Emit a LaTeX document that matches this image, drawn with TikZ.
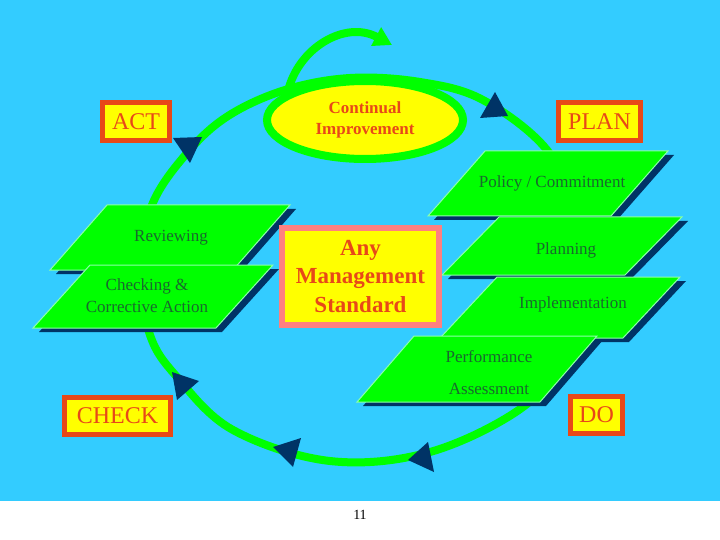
\documentclass[tikz,border=0pt]{standalone}
\usepackage{fontspec}
\setmainfont{Liberation Serif}
\usetikzlibrary{arrows.meta, shapes.geometric}

\definecolor{sky}{RGB}{51,204,255}
\definecolor{leaf}{RGB}{0,255,0}
\definecolor{leafedge}{RGB}{140,255,170}
\definecolor{navy}{RGB}{0,51,102}
\definecolor{brick}{RGB}{232,72,24}
\definecolor{salmon}{RGB}{255,128,128}
\definecolor{forest}{RGB}{25,105,45}
\definecolor{lemon}{RGB}{255,255,0}

\begin{document}
\begin{tikzpicture}[
        x=1pt, y=-1pt,
        every node/.style={font=\fontsize{17}{20}\selectfont},
        phase/.style={rectangle, draw=brick, line width=5pt, fill=lemon, text=brick, inner sep=0pt, minimum height=38pt, font=\fontsize{24}{28}\selectfont},
        core/.style={rectangle, draw=salmon, line width=6pt, fill=lemon, text=brick, inner sep=0pt, align=center, font=\bfseries\fontsize{23}{28.5}\selectfont},
        slab/.style={fill=leaf, draw=leafedge, line width=1pt},
        slabshadow/.style={fill=navy},
        slabtext/.style={text=forest, align=center, inner sep=0pt},
        cycleline/.style={draw=leaf, line width=8pt},
        marker/.style={fill=navy}
        ]
        
        % Page and background
        \useasboundingbox (0,0) rectangle (720,540);
        \fill[sky] (0,0) rectangle (720,501);
        
        % Improvement loop
        \draw[cycleline] plot[smooth cycle, tension=0.6] coordinates {
            (140,270) (152,205) (187,153) (228,116) (285,90) (350,78) (420,82) (483,100)
            (547,150) (575,215) (582,285) (562,355) (523,407) (430,452) (330,461) (233,430)
            (177,377) (150,335)};
        
        % Flow markers on the loop
        \foreach \ax/\ay/\bx/\by/\cx/\cy in {173/138/202/137/190/163, 495/92/508/116/480/118,
                172/372/199/381/177/400, 273/447/301/438/293/467, 428/442/434/472/408/460}
            \fill[marker] (\ax,\ay) -- (\bx,\by) -- (\cx,\cy) -- cycle;
        
        % Slabs: Policy, Planning, Implementation, Performance, Reviewing, Checking
        \foreach \sx/\sy/\sh in {428/216/65, 442/275/58, 440/338/61, 357/402/66, 50/270/65, 33/328/63} {
            \fill[slabshadow] (\sx+6,\sy+4) -- ++(183,0) -- ++(57,-\sh) -- ++(-183,0) -- cycle;
            \draw[slab] (\sx,\sy) -- ++(183,0) -- ++(57,-\sh) -- ++(-183,0) -- cycle;
        }
        
        % Slab labels
        \node[slabtext] (policy) at (552,183) {Policy / Commitment};
        \node[slabtext] (planning) at (566,250) {Planning};
        \node[slabtext] (implement) at (573,304) {Implementation};
        \node[slabtext, font=\fontsize{17}{32}\selectfont] (assess) at (489,373) {Performance\\Assessment};
        \node[slabtext] (review) at (171,238) {Reviewing};
        \node[slabtext, font=\fontsize{17}{22}\selectfont] (checking) at (147,296) {Checking \&\\Corrective Action};
        
        % Centre
        \node[core, minimum width=157pt, minimum height=97pt] (standard) at (360.5,276.5) {Any\\Management\\Standard};
        \node[ellipse, draw=leaf, line width=8pt, fill=lemon, minimum width=196pt, minimum height=78pt,
            text=brick, align=center, font=\bfseries\fontsize{17}{21}\selectfont] (improve) at (365,120) {Continual\\Improvement};
        \coordinate (spark) at (392,45);
        \draw[cycleline, -{Triangle[length=18pt, width=20pt]}] (improve.160) .. controls (298,48) and (345,20) .. (spark);
        
        % Phase labels
        \node[phase, minimum width=67pt] (act) at (136,121.5) {ACT};
        \node[phase, minimum width=82pt] (plan) at (599.5,121.5) {PLAN};
        \node[phase, minimum width=106pt, minimum height=37pt] (check) at (117.5,416) {CHECK};
        \node[phase, minimum width=52pt, minimum height=37pt] (do) at (596.5,415) {DO};
        
        % Page number
        \node[font=\fontsize{14}{16}\selectfont] (page) at (360,515) {11};
        
    \end{tikzpicture}
\end{document}
